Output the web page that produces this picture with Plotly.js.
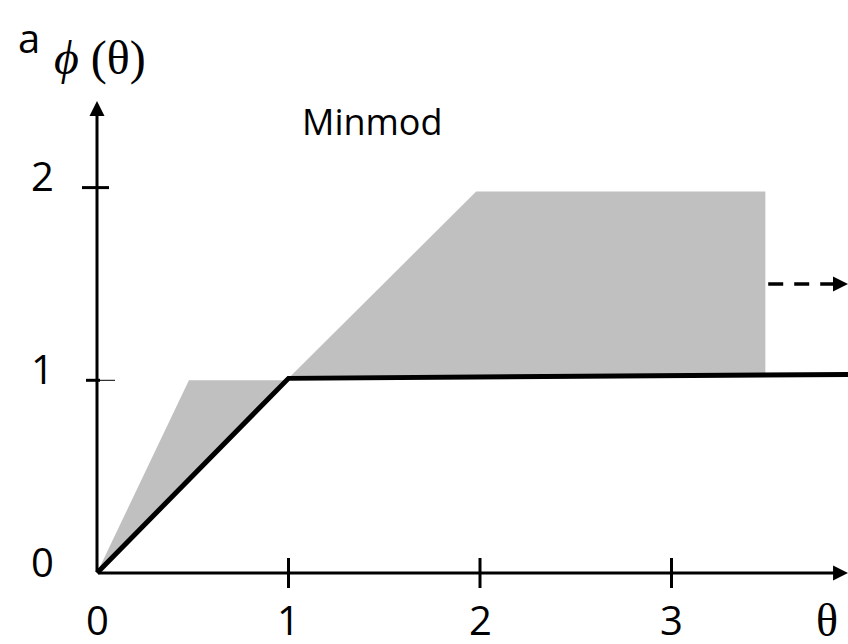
<!DOCTYPE html>
<html>
<head>
<meta charset="utf-8">
<script src="https://cdn.plot.ly/plotly-3.0.1.min.js"></script>
<style>
  html, body { margin: 0; padding: 0; background: #fff; }
  #chart { width: 848px; height: 644px; }
</style>
</head>
<body>
<div id="chart"></div>
<script>
// Minmod limiter phi(theta) and the second-order TVD region
const tvdRegionTheta = [0, 0.48, 0.98, 1.0, 1.98, 3.49, 3.49, 1.0, 0];
const tvdRegionPhi   = [0, 1.0, 1.0, 1.01, 1.98, 1.98, 1.02, 1.01, 0];

const minmodTheta = [0, 1.0, 3.922];
const minmodPhi   = [0, 1.01, 1.03];

// dashed arrow: region continues to the right
const contTheta = [3.505, 3.85];
const contPhi   = [1.5, 1.5];
const contTip   = [3.922, 1.5];

const xTickVals = [0, 1, 2, 3];
const xTickText = ['0', '1', '2', '3'];
const yTickVals = [0, 1, 2];
const yTickText = ['0', '1', '2'];

const xAxisEnd = 3.922;
const yAxisEnd = 2.45;

const sans = 'Open Sans, Noto Sans, sans-serif';
const serif = 'Liberation Serif, DejaVu Serif, serif';

const traces = [
  {
    x: tvdRegionTheta, y: tvdRegionPhi,
    type: 'scatter', mode: 'lines', fill: 'toself',
    fillcolor: '#c0c0c0', line: { width: 0, color: '#c0c0c0' },
    hoverinfo: 'skip', showlegend: false
  },
  {
    x: minmodTheta, y: minmodPhi,
    type: 'scatter', mode: 'lines',
    line: { color: '#000', width: 5 },
    cliponaxis: false, showlegend: false
  },
  {
    x: contTheta, y: contPhi,
    type: 'scatter', mode: 'lines',
    line: { color: '#000', width: 3.5, dash: '15px,11px' },
    cliponaxis: false, showlegend: false
  }
];

const shapes = [];
// tick marks crossing the x axis
[1, 2, 3].forEach(v => shapes.push({
  type: 'line', xref: 'x', yref: 'y', ysizemode: 'pixel', yanchor: 0,
  x0: v, x1: v, y0: -15, y1: 15,
  line: { color: '#000', width: 3 }
}));
// tick marks on the y axis
shapes.push({
  type: 'line', xref: 'x', yref: 'y', xsizemode: 'pixel', xanchor: 0,
  x0: -15, x1: 12, y0: 2, y1: 2, line: { color: '#000', width: 3 }
});
shapes.push({
  type: 'line', xref: 'x', yref: 'y', xsizemode: 'pixel', xanchor: 0,
  x0: -11, x1: 3, y0: 1, y1: 1, line: { color: '#000', width: 3 }
});
shapes.push({
  type: 'line', xref: 'x', yref: 'y', xsizemode: 'pixel', xanchor: 0,
  x0: 3, x1: 18, y0: 1, y1: 1, line: { color: '#000', width: 1 }
});

const annotations = [];
// axes with arrowheads
annotations.push({
  x: xAxisEnd, y: 0, ax: 0, ay: 0, xref: 'x', yref: 'y', axref: 'x', ayref: 'y',
  showarrow: true, arrowhead: 2, arrowwidth: 3, arrowsize: 1, arrowcolor: '#000', text: ''
});
annotations.push({
  x: 0, y: yAxisEnd, ax: 0, ay: 0, xref: 'x', yref: 'y', axref: 'x', ayref: 'y',
  showarrow: true, arrowhead: 2, arrowwidth: 3, arrowsize: 1, arrowcolor: '#000', text: ''
});
annotations.push({
  x: contTip[0], y: contTip[1], ax: contTheta[1], ay: contPhi[1],
  xref: 'x', yref: 'y', axref: 'x', ayref: 'y',
  showarrow: true, arrowhead: 2, arrowwidth: 3.5, arrowsize: 0.86, arrowcolor: '#000', text: ''
});
// tick labels
xTickVals.forEach((v, i) => annotations.push({
  x: v, y: 0, xref: 'x', yref: 'y', showarrow: false,
  text: xTickText[i], yshift: -46, xanchor: 'center', yanchor: 'middle',
  font: { family: sans, size: 40, color: '#000' }
}));
yTickVals.forEach((v, i) => annotations.push({
  x: 0, y: v, xref: 'x', yref: 'y', showarrow: false,
  text: yTickText[i], xshift: -55, yshift: 12, xanchor: 'center', yanchor: 'middle',
  font: { family: sans, size: 40, color: '#000' }
}));
// axis titles and panel labels (positions in pixels from the top-left)
annotations.push({
  x: 827, y: 620, xref: 'paper', yref: 'paper', showarrow: false,
  text: 'θ', xanchor: 'center', yanchor: 'middle',
  font: { family: serif, size: 46, color: '#000' }
});
annotations.push({
  x: 52, y: 58, xref: 'paper', yref: 'paper', showarrow: false,
  text: '<i>ϕ</i> (θ)', xanchor: 'left', yanchor: 'middle',
  font: { family: serif, size: 48, color: '#000' }
});
annotations.push({
  x: 29, y: 38, xref: 'paper', yref: 'paper', showarrow: false,
  text: 'a', xanchor: 'center', yanchor: 'middle',
  font: { family: sans, size: 40, color: '#000' }
});
annotations.push({
  x: 372, y: 121, xref: 'paper', yref: 'paper', showarrow: false,
  text: 'Minmod', xanchor: 'center', yanchor: 'middle',
  font: { family: sans, size: 36, color: '#000' }
});

const W = 848, H = 644;
annotations.forEach(a => {
  if (a.xref === 'paper') {
    a.x = a.x / W;
    a.y = 1 - a.y / H;
  }
});

// the plot area fills the whole figure; the origin sits at (97, 573) px
const pxPerX = 191.5, pxPerY = 192.7, originX = 97, originY = 573;

const layout = {
  width: W, height: H,
  margin: { l: 0, r: 0, t: 0, b: 0 },
  paper_bgcolor: '#fff', plot_bgcolor: '#fff',
  xaxis: { range: [-originX / pxPerX, (W - originX) / pxPerX], visible: false, fixedrange: true },
  yaxis: { range: [-(H - originY) / pxPerY, originY / pxPerY], visible: false, fixedrange: true },
  shapes: shapes,
  annotations: annotations,
  showlegend: false
};

Plotly.newPlot('chart', traces, layout, { displayModeBar: false, staticPlot: true });
</script>
</body>
</html>
